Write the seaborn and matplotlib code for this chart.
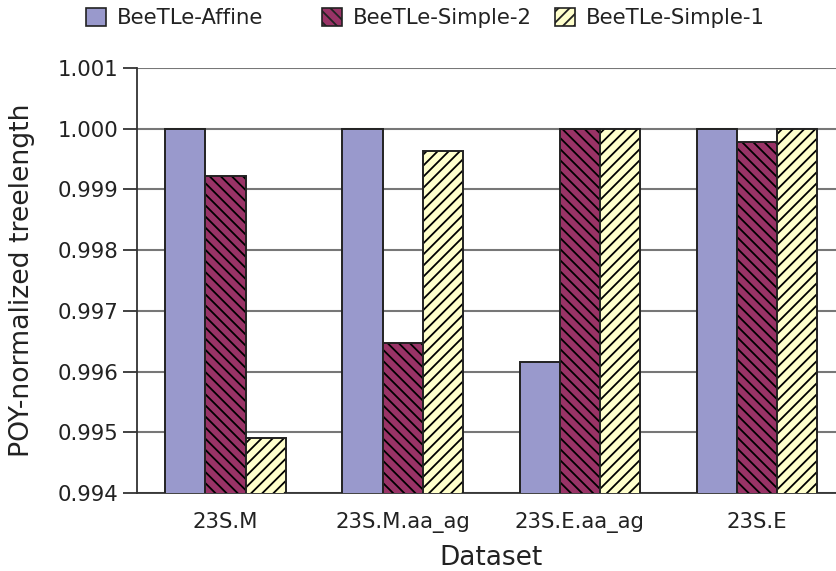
import matplotlib
matplotlib.use("Agg")
import matplotlib.pyplot as plt
import seaborn as sns
import pandas as pd
from matplotlib.patches import Patch

# Dataset categories and normalized tree lengths per method
datasets = ["23S.M", "23S.M.aa_ag", "23S.E.aa_ag", "23S.E"]
methods = ["BeeTLe-Affine", "BeeTLe-Simple-2", "BeeTLe-Simple-1"]
affine = [1.0000, 1.0000, 0.99616, 1.0000]
simple2 = [0.99922, 0.99647, 1.0000, 0.99978]
simple1 = [0.99491, 0.99963, 1.0000, 1.0000]
yticks = [0.994, 0.995, 0.996, 0.997, 0.998, 0.999, 1.000, 1.001]

colors = ["#9999CC", "#993366", "#FFFFCC"]
hatches = ["", "\\\\\\", "///"]

rows = []
for m, vals in zip(methods, [affine, simple2, simple1]):
    for d, v in zip(datasets, vals):
        rows.append({"Dataset": d, "Method": m, "Value": v})
df = pd.DataFrame(rows)

sns.set_style("white")
plt.rcParams["font.family"] = ["DejaVu Sans"]
plt.rcParams["hatch.linewidth"] = 1.3

fig = plt.figure(figsize=(8.36, 5.71), dpi=100)
ax = fig.add_axes([137 / 836, 1 - 493 / 571, (845.5 - 137) / 836, (493 - 68) / 571])

sns.barplot(data=df, x="Dataset", y="Value", hue="Method", order=datasets,
            hue_order=methods, palette=colors, saturation=1, width=0.68, gap=0,
            edgecolor="#222222", linewidth=1.4, legend=False, ax=ax, zorder=3)

for cont, h in zip(ax.containers, hatches):
    for bar in cont:
        bar.set_hatch(h)
        bar._hatch_color = (0, 0, 0, 1)

ax.set_ylim(0.994, 1.001)
ax.set_xlim(-0.5, 3.5)
ax.set_yticks(yticks)
ax.set_yticklabels([f"{t:.3f}" for t in yticks])
ax.yaxis.grid(True, color="#777777", linewidth=1.5, zorder=0)
ax.set_axisbelow(True)

ax.set_xticks(range(len(datasets)))
ax.set_xticklabels(datasets)
ax.set_xticks([-0.5, 0.5, 1.5, 2.5, 3.5], minor=True)
ax.tick_params(axis="x", which="major", length=0, labelsize=15.3, pad=14, colors="#222222")
ax.tick_params(axis="x", which="minor", length=10, width=1.3, color="#333333", direction="out")
ax.tick_params(axis="y", length=10, width=1.3, color="#333333", labelsize=15.3,
               labelcolor="#222222", direction="out", left=True)

for s in ["top", "right"]:
    ax.spines[s].set_visible(False)
for s in ["left", "bottom"]:
    ax.spines[s].set_color("#333333")
    ax.spines[s].set_linewidth(1.3)

ax.set_xlabel("Dataset", fontsize=19, color="#222222", labelpad=8)
ax.set_ylabel("POY-normalized treelength", fontsize=19.3, color="#222222", labelpad=16)

# Legend entries placed in fixed-width columns across the top
x_positions = [86, 322, 555]
for m, c, h, xp in zip(methods, colors, hatches, x_positions):
    handle = Patch(facecolor=c, edgecolor="#222222", hatch=h, linewidth=1.2, label=m)
    fig.legend(handles=[handle], loc="center left", bbox_to_anchor=(xp / 836, 1 - 18 / 571),
               frameon=False, fontsize=15.3, handlelength=0.95, handleheight=0.95,
               handletextpad=0.5, borderpad=0, borderaxespad=0, labelcolor="#222222")

fig.savefig("out.png", dpi=100)
